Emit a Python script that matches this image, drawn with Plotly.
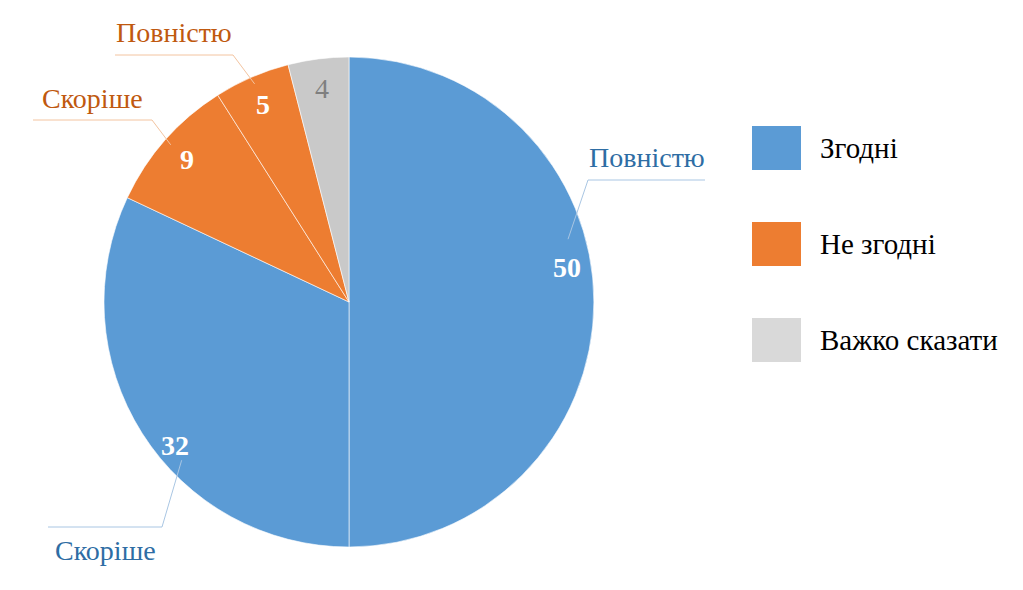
import math
import plotly.graph_objects as go

# data
slice_values = [50, 32, 9, 5, 4]
slice_labels = ["Повністю", "Скоріше", "Скоріше", "Повністю", ""]
slice_groups = [0, 0, 1, 1, 2]
group_names = ["Згодні", "Не згодні", "Важко сказати"]

# style
W, H = 1023, 590
PAD = 8  # page body margin
FW, FH = W - PAD, H - PAD
group_colors = ["#5B9BD5", "#ED7D31", "#C9C9C9"]
legend_colors = ["#5B9BD5", "#ED7D31", "#D9D9D9"]
text_colors = ["#2E6DA4", "#C0590F", "#7F7F7F"]
leader_colors = ["#A9C6E3", "#F3C4A0", "#CCCCCC"]
number_colors = ["white", "white", "white", "white", "#7F7F7F"]
number_bold = [True, True, True, True, False]
FONT = "Liberation Serif"

cx, cy, R = 349, 302, 245
num_shift = [-9, -7, 0, 0, 0]        # deg, where Excel nudged the value label
num_radius = [0.9, 0.92, 0.88, 0.88, 0.88]
lead_shift = [-16, -11, 0, 0, 0]
lead_radius = [0.93, 0.94, 0.97, 0.97, 0]
# elbow point and horizontal underline extent for each outside label (px)
elbow = [(588, 180), (162, 527), (152, 120), (233, 55), None]
underline = [(588, 705), (48, 162), (33, 152), (115, 233), None]
text_above = [True, False, True, True, True]


def px(x):
    return (x - PAD) / FW


def py(y):
    return 1 - (y - PAD) / FH


def polar(theta_deg, r):
    t = math.radians(theta_deg)
    return cx + r * math.sin(t), cy - r * math.cos(t)


fig = go.Figure()
fig.add_trace(go.Pie(
    values=slice_values,
    sort=False,
    direction="clockwise",
    rotation=0,
    textinfo="none",
    hoverinfo="skip",
    showlegend=False,
    marker=dict(colors=[group_colors[g] for g in slice_groups],
                line=dict(color="white", width=0.6)),
    domain=dict(x=[px(cx - R), px(cx + R)], y=[py(cy + R), py(cy - R)]),
))

annotations = []
shapes = []
total = sum(slice_values)
start = 0.0
for i, v in enumerate(slice_values):
    span = 360.0 * v / total
    mid = start + span / 2
    start += span
    g = slice_groups[i]

    nx, ny = polar(mid + num_shift[i], R * num_radius[i])
    txt = "<b>%d</b>" % v if number_bold[i] else str(v)
    annotations.append(dict(x=px(nx), y=py(ny), xref="paper", yref="paper",
                            xanchor="center", yanchor="middle",
                            text=txt, showarrow=False,
                            font=dict(family=FONT, size=28, color=number_colors[i])))

    if not slice_labels[i]:
        continue
    lx, ly = polar(mid + lead_shift[i], R * lead_radius[i])
    ex, ey = elbow[i]
    x0, x1 = underline[i]
    shapes.append(dict(type="line", xref="paper", yref="paper",
                       x0=px(lx), y0=py(ly), x1=px(ex), y1=py(ey),
                       line=dict(color=leader_colors[g], width=1)))
    shapes.append(dict(type="line", xref="paper", yref="paper",
                       x0=px(x0), y0=py(ey), x1=px(x1), y1=py(ey),
                       line=dict(color=leader_colors[g], width=1)))
    ty = ey - 22 if text_above[i] else ey + 23
    annotations.append(dict(x=px((x0 + x1) / 2), y=py(ty), xref="paper", yref="paper",
                            xanchor="center", yanchor="middle",
                            text=slice_labels[i], showarrow=False,
                            font=dict(family=FONT, size=28, color=text_colors[g])))

# legend drawn by hand to get the large swatches
for k, name in enumerate(group_names):
    top = 126 + 96 * k
    shapes.append(dict(type="rect", xref="paper", yref="paper",
                       x0=px(752), x1=px(801), y0=py(top + 44), y1=py(top),
                       fillcolor=legend_colors[k], line=dict(width=0)))
    annotations.append(dict(x=px(818), y=py(top + 22), xref="paper", yref="paper",
                            xanchor="left", yanchor="middle",
                            text=name, showarrow=False,
                            font=dict(family=FONT, size=29, color="black")))

fig.update_layout(
    width=FW, height=FH,
    margin=dict(l=0, r=0, t=0, b=0),
    paper_bgcolor="white",
    plot_bgcolor="white",
    annotations=annotations,
    shapes=shapes,
)

fig.write_html("out.html")
